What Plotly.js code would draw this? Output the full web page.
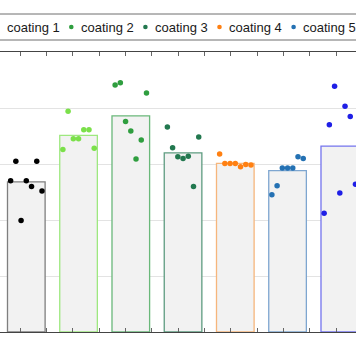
<!DOCTYPE html>
<html>
<head>
<meta charset="utf-8">
<script src="https://cdn.plot.ly/plotly-3.0.1.min.js"></script>
<style>
html,body{margin:0;padding:0;width:356px;height:364px;overflow:hidden;background:#fff;}
#chart{position:absolute;left:-40px;top:0;width:440px;height:364px;}
</style>
</head>
<body>
<div id="chart"></div>
<script>
// ---- data ----
const categories = ['uncoated', 'coating 1', 'coating 2', 'coating 3', 'coating 4', 'coating 5', 'coating 6'];
const barMeans = [2.68, 3.51, 3.86, 3.20, 3.01, 2.88, 3.32];
const samples0 = [2.70, 3.05, 1.99, 2.70, 2.60, 3.05, 2.52];
const samples1 = [3.26, 3.94, 3.45, 3.45, 3.61, 3.61, 3.28];
const samples2 = [4.41, 4.45, 3.76, 3.59, 3.09, 3.43, 4.27];
const samples3 = [3.66, 3.29, 3.13, 3.10, 3.14, 2.60, 3.48];
const samples4 = [3.18, 3.01, 3.01, 3.01, 2.95, 2.99, 2.98];
const samples5 = [2.45, 2.61, 2.93, 2.93, 2.93, 3.13, 3.10];
const samples6 = [2.12, 3.70, 4.39, 2.48, 4.03, 3.85, 2.64];
const samples = [samples0, samples1, samples2, samples3, samples4, samples5, samples6];

// ---- style ----
const pointColors = ['#000000', '#7be04a', '#2f9e3f', '#22784f', '#ff8012', '#2471b3', '#1f1fe6'];
const outlineColors = ['#7f7f7f', '#9ee87f', '#6ab87a', '#5e9c80', '#f6b67c', '#7ea6d0', '#7474ee'];
const jitter = [-0.3, -0.2, -0.1, 0, 0.1, 0.2, 0.3];

const xIdx = categories.map((c, i) => i);

const traces = [];
traces.push({
  type: 'bar', x: xIdx, y: barMeans, width: 0.72,
  marker: {color: '#f2f2f2', line: {color: outlineColors, width: 1.3}},
  hoverinfo: 'skip'
});
samples.forEach((s, g) => {
  traces.push({
    type: 'scatter', mode: 'markers',
    x: s.map((v, k) => g + jitter[k]), y: s,
    marker: {color: pointColors[g], size: 5.5},
    hoverinfo: 'skip'
  });
});

// geometry helpers (visible-pixel -> paper)
const plotLeft = -20, plotW = 410, plotTop = 52, plotH = 280;
const px2paperX = p => (p - plotLeft) / plotW;
const py2paperY = p => (plotTop + plotH - p) / plotH;

const legendY = py2paperY(27);
const shapes = [{
  type: 'rect', xref: 'paper', yref: 'paper',
  x0: px2paperX(-60), x1: px2paperX(420), y0: py2paperY(40), y1: py2paperY(14),
  line: {color: '#6e6e6e', width: 1}, fillcolor: 'rgba(0,0,0,0)'
}];
const annotations = [];
categories.forEach((c, i) => {
  const textX = 7 + 74.1 * (i - 1);
  const markX = textX - 9.8;
  shapes.push({
    type: 'circle', xref: 'paper', yref: 'paper',
    xsizemode: 'pixel', ysizemode: 'pixel',
    xanchor: px2paperX(markX), yanchor: legendY,
    x0: -2.3, x1: 2.3, y0: -2.3, y1: 2.3,
    fillcolor: pointColors[i], line: {width: 0}
  });
  annotations.push({
    xref: 'paper', yref: 'paper', x: px2paperX(textX - 2), y: legendY,
    xanchor: 'left', yanchor: 'middle', showarrow: false, text: c,
    font: {family: 'Liberation Sans, Arial, sans-serif', size: 13, color: '#1a1a1a'}
  });
});

const layout = {
  width: 440, height: 364,
  margin: {l: 20, r: 10, t: 52, b: 32},
  paper_bgcolor: '#ffffff', plot_bgcolor: '#ffffff',
  showlegend: false, hovermode: false,
  xaxis: {
    range: [(plotLeft - 26.3) / 52.25, (plotLeft + plotW - 26.3) / 52.25],
    showgrid: false, zeroline: false, showticklabels: false,
    showline: true, linecolor: '#444', linewidth: 1, mirror: 'ticks',
    ticks: 'inside', ticklen: 4, tickcolor: '#666', tickwidth: 1,
    tickmode: 'linear', tick0: -0.12, dtick: 0.504
  },
  yaxis: {
    range: [0, 5], showgrid: true, gridcolor: '#e3e3e3', gridwidth: 1,
    zeroline: false, showticklabels: false, showline: false,
    tickmode: 'linear', tick0: 0, dtick: 1, ticks: ''
  },
  shapes: shapes,
  annotations: annotations
};

Plotly.newPlot('chart', traces, layout, {staticPlot: true, displayModeBar: false});
</script>
</body>
</html>
